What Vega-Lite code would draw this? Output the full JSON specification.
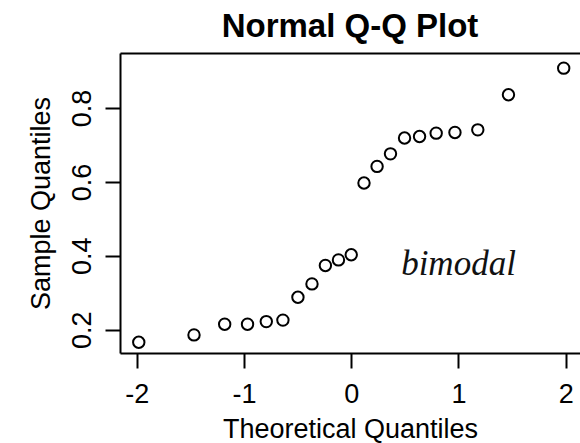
{
  "$schema": "https://vega.github.io/schema/vega-lite/v6.json",
  "autosize": {"type": "none"},
  "width": 460,
  "height": 300,
  "padding": {"left": 120, "top": 53, "right": 0, "bottom": 90},
  "background": "white",
  "config": {
    "view": {"stroke": null},
    "font": "Liberation Sans"
  },
  "title": {
    "text": "Normal Q-Q Plot",
    "font": "Liberation Sans",
    "fontSize": 33,
    "fontWeight": "bold",
    "color": "#000",
    "anchor": "middle",
    "frame": "group",
    "baseline": "alphabetic",
    "offset": -17
  },
  "resolve": {"axis": {"x": "independent"}},
  "layer": [
    {
      "data": {
        "values": [
          {"theoretical": -1.981, "sample": 0.166},
          {"theoretical": -1.466, "sample": 0.186},
          {"theoretical": -1.180, "sample": 0.215},
          {"theoretical": -0.967, "sample": 0.215},
          {"theoretical": -0.792, "sample": 0.222},
          {"theoretical": -0.637, "sample": 0.226},
          {"theoretical": -0.497, "sample": 0.288},
          {"theoretical": -0.366, "sample": 0.324},
          {"theoretical": -0.241, "sample": 0.374},
          {"theoretical": -0.119, "sample": 0.389},
          {"theoretical": 0.0, "sample": 0.403},
          {"theoretical": 0.119, "sample": 0.597},
          {"theoretical": 0.241, "sample": 0.642},
          {"theoretical": 0.366, "sample": 0.676},
          {"theoretical": 0.497, "sample": 0.719},
          {"theoretical": 0.637, "sample": 0.723},
          {"theoretical": 0.792, "sample": 0.732},
          {"theoretical": 0.967, "sample": 0.734},
          {"theoretical": 1.180, "sample": 0.741},
          {"theoretical": 1.466, "sample": 0.836},
          {"theoretical": 1.981, "sample": 0.908}
        ]
      },
      "mark": {"type": "point", "shape": "circle", "filled": false, "stroke": "#000", "strokeWidth": 2, "size": 130, "opacity": 1},
      "encoding": {
        "x": {
          "field": "theoretical", "type": "quantitative",
          "scale": {"domain": [-2.156, 2.133], "nice": false, "zero": false},
          "axis": {
            "orient": "bottom",
            "title": "Theoretical Quantiles",
            "values": [-2, -1, 0, 1, 2],
            "labelExpr": "datum.value + ''",
            "grid": false,
            "domainColor": "#000", "domainWidth": 2,
            "tickColor": "#000", "tickWidth": 2, "tickSize": 15,
            "labelFont": "Liberation Sans", "labelFontSize": 27, "labelColor": "#000",
            "labelBaseline": "alphabetic", "labelPadding": 34, "labelFlush": false, "labelOverlap": false,
            "titleFont": "Liberation Sans", "titleFontSize": 27, "titleFontWeight": "normal", "titleColor": "#000",
            "titleBaseline": "alphabetic", "titleAlign": "center", "titleX": 230, "titleY": 84
          }
        },
        "y": {
          "field": "sample", "type": "quantitative",
          "scale": {"domain": [0.137, 0.949], "nice": false, "zero": false},
          "axis": {
            "title": "Sample Quantiles",
            "values": [0.2, 0.4, 0.6, 0.8],
            "format": ".1f",
            "grid": false,
            "domainColor": "#000", "domainWidth": 2,
            "tickColor": "#000", "tickWidth": 2, "tickSize": 15,
            "labelFont": "Liberation Sans", "labelFontSize": 27, "labelColor": "#000",
            "labelAngle": 270, "labelAlign": "center", "labelBaseline": "alphabetic", "labelPadding": 15,
            "labelFlush": false, "labelOverlap": false,
            "titleFont": "Liberation Sans", "titleFontSize": 27, "titleFontWeight": "normal", "titleColor": "#000",
            "titleAngle": 270, "titleBaseline": "alphabetic", "titleAlign": "center", "titleX": -71, "titleY": 150
          }
        }
      }
    },
    {
      "data": {"values": [{"label": "bimodal", "theoretical": 1.0, "sample": 0.349}]},
      "mark": {"type": "text", "font": "Liberation Serif", "fontStyle": "italic", "fontSize": 35, "color": "#111", "align": "center", "baseline": "alphabetic"},
      "encoding": {
        "x": {
          "field": "theoretical", "type": "quantitative",
          "scale": {"domain": [-2.156, 2.133], "nice": false, "zero": false},
          "axis": {"orient": "top", "title": null, "labels": false, "ticks": false, "grid": false, "domainColor": "#000", "domainWidth": 2}
        },
        "y": {"field": "sample", "type": "quantitative", "scale": {"domain": [0.137, 0.949], "nice": false, "zero": false}},
        "text": {"field": "label"}
      }
    }
  ]
}
